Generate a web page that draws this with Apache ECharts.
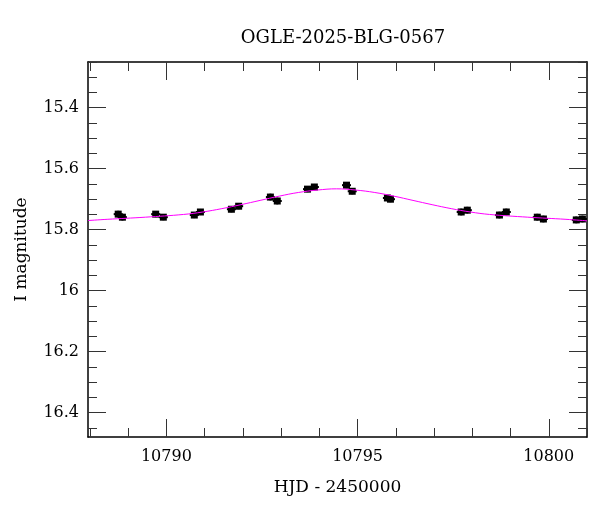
<!DOCTYPE html>
<html>
<head>
<meta charset="utf-8">
<script src="https://cdn.jsdelivr.net/npm/echarts@6/dist/echarts.min.js"></script>
<style>
  html, body { margin: 0; padding: 0; background: #fff; }
  #container { width: 600px; height: 512px; }
</style>
</head>
<body>
<div id="container"></div>
<script>
// observations: HJD - 2450000, I mag, error
var obsTime = [
  10788.74, 10788.85, 10789.72, 10789.92, 10790.73, 10790.89,
  10791.70, 10791.89, 10792.72, 10792.90, 10793.69, 10793.87,
  10794.71, 10794.86, 10795.78, 10795.86, 10797.71, 10797.87,
  10798.71, 10798.89, 10799.70, 10799.86, 10800.72, 10800.88
];
var obsMag = [
  15.749, 15.759, 15.749, 15.759, 15.752, 15.742,
  15.733, 15.723, 15.693, 15.706, 15.667, 15.660,
  15.654, 15.674, 15.696, 15.700, 15.742, 15.736,
  15.752, 15.742, 15.759, 15.765, 15.768, 15.765
];
var obsErr = [
  0.011, 0.011, 0.010, 0.010, 0.010, 0.010,
  0.010, 0.010, 0.011, 0.011, 0.010, 0.010,
  0.010, 0.010, 0.010, 0.010, 0.011, 0.011,
  0.011, 0.011, 0.011, 0.011, 0.011, 0.011
];

// model curve
var modelTime = [
  10787.95, 10788.45, 10789.45, 10790.45, 10790.95, 10791.45, 10791.95, 10792.45,
  10792.95, 10793.45, 10793.95, 10794.45, 10794.95, 10795.45, 10795.95, 10796.45,
  10796.95, 10797.45, 10797.95, 10798.45, 10799.45, 10800.45, 10801.0
];
var modelMag = [
  15.770, 15.766, 15.759, 15.750, 15.742, 15.731, 15.718, 15.704,
  15.690, 15.678, 15.670, 15.666, 15.670, 15.678, 15.690, 15.704,
  15.718, 15.731, 15.742, 15.750, 15.759, 15.766, 15.771
];

var xMajorTicks = [10790, 10795, 10800];
var xMinorTicks = [10788, 10789, 10791, 10792, 10793, 10794, 10796, 10797, 10798, 10799, 10801];
var yMajorTicks = [15.4, 15.6, 15.8, 16, 16.2, 16.4];
var yMinorTicks = [15.25, 15.3, 15.35, 15.45, 15.5, 15.55, 15.65, 15.7, 15.75, 15.85, 15.9, 15.95,
  16.05, 16.1, 16.15, 16.25, 16.3, 16.35, 16.45];

var X_MIN = 10787.95, X_MAX = 10801.0;
var Y_MIN = 15.25, Y_MAX = 16.48;

var dom = document.getElementById('container');
var myChart = echarts.init(dom);

var serif = 'DejaVu Serif';
var obsData = obsTime.map(function (t, i) { return [t, obsMag[i], obsErr[i]]; });
var modelData = modelTime.map(function (t, i) { return [t, modelMag[i]]; });

function xAx(pos, ticks, len, major) {
  return {
    type: 'value', position: pos, min: X_MIN, max: X_MAX,
    axisLine: { show: major, lineStyle: { color: '#000', width: 1.5 } },
    axisTick: { show: true, inside: true, length: len, customValues: ticks,
      lineStyle: { color: '#333', width: 1 } },
    axisLabel: { show: major && pos === 'bottom', customValues: ticks, margin: 12,
      color: '#000', fontFamily: serif, fontSize: 16,
      formatter: function (v) { return String(v); } },
    splitLine: { show: false }
  };
}
function yAx(pos, ticks, len, major) {
  return {
    type: 'value', position: pos, min: Y_MIN, max: Y_MAX, inverse: true,
    axisLine: { show: major, lineStyle: { color: '#000', width: 1.5 } },
    axisTick: { show: true, inside: true, length: len, customValues: ticks,
      lineStyle: { color: '#333', width: 1 } },
    axisLabel: { show: major && pos === 'left', customValues: ticks, margin: 9,
      color: '#000', fontFamily: serif, fontSize: 16,
      formatter: function (v) { return String(Math.round(v * 10) / 10); } },
    splitLine: { show: false }
  };
}

var xAxes = [
  xAx('bottom', xMajorTicks, 18, true),
  xAx('bottom', xMinorTicks, 9, false),
  xAx('top', xMajorTicks, 18, true),
  xAx('top', xMinorTicks, 9, false)
];
xAxes[0].name = 'HJD - 2450000';
xAxes[0].nameLocation = 'middle';
xAxes[0].nameGap = 42;
xAxes[0].nameTextStyle = { color: '#000', fontFamily: serif, fontSize: 17 };

var yAxes = [
  yAx('left', yMajorTicks, 18, true),
  yAx('left', yMinorTicks, 9, false),
  yAx('right', yMajorTicks, 18, true),
  yAx('right', yMinorTicks, 9, false)
];
yAxes[0].name = 'I magnitude';
yAxes[0].nameLocation = 'middle';
yAxes[0].nameGap = 58;
yAxes[0].nameTextStyle = { color: '#000', fontFamily: serif, fontSize: 17 };

var option = {
  backgroundColor: '#fff',
  animation: false,
  title: {
    text: 'OGLE-2025-BLG-0567',
    left: 338, top: 24, textAlign: 'center',
    textStyle: { color: '#000', fontFamily: serif, fontSize: 18, fontWeight: 'normal' }
  },
  grid: { left: 88, right: 13, top: 62, bottom: 75 },
  xAxis: xAxes,
  yAxis: yAxes,
  series: [
    {
      type: 'line',
      data: modelData,
      smooth: 0.4,
      showSymbol: false,
      lineStyle: { color: '#ff00ff', width: 1 },
      z: 3
    },
    {
      type: 'custom',
      data: obsData,
      renderItem: function (params, api) {
        var p = api.coord([api.value(0), api.value(1)]);
        var lo = api.coord([api.value(0), api.value(1) - api.value(2)]);
        var hi = api.coord([api.value(0), api.value(1) + api.value(2)]);
        return {
          type: 'group',
          children: [
            { type: 'line', shape: { x1: p[0], y1: lo[1], x2: p[0], y2: hi[1] },
              style: { stroke: '#000', lineWidth: 2 } },
            { type: 'line', shape: { x1: p[0] - 4.5, y1: p[1], x2: p[0] + 4.5, y2: p[1] },
              style: { stroke: '#000', lineWidth: 2 } },
            { type: 'rect', shape: { x: p[0] - 3.5, y: p[1] - 3.5, width: 7, height: 7 },
              style: { fill: '#000' } }
          ]
        };
      },
      z: 2
    }
  ]
};

myChart.setOption(option, true);
window.onresize = myChart.resize;
</script>
</body>
</html>
